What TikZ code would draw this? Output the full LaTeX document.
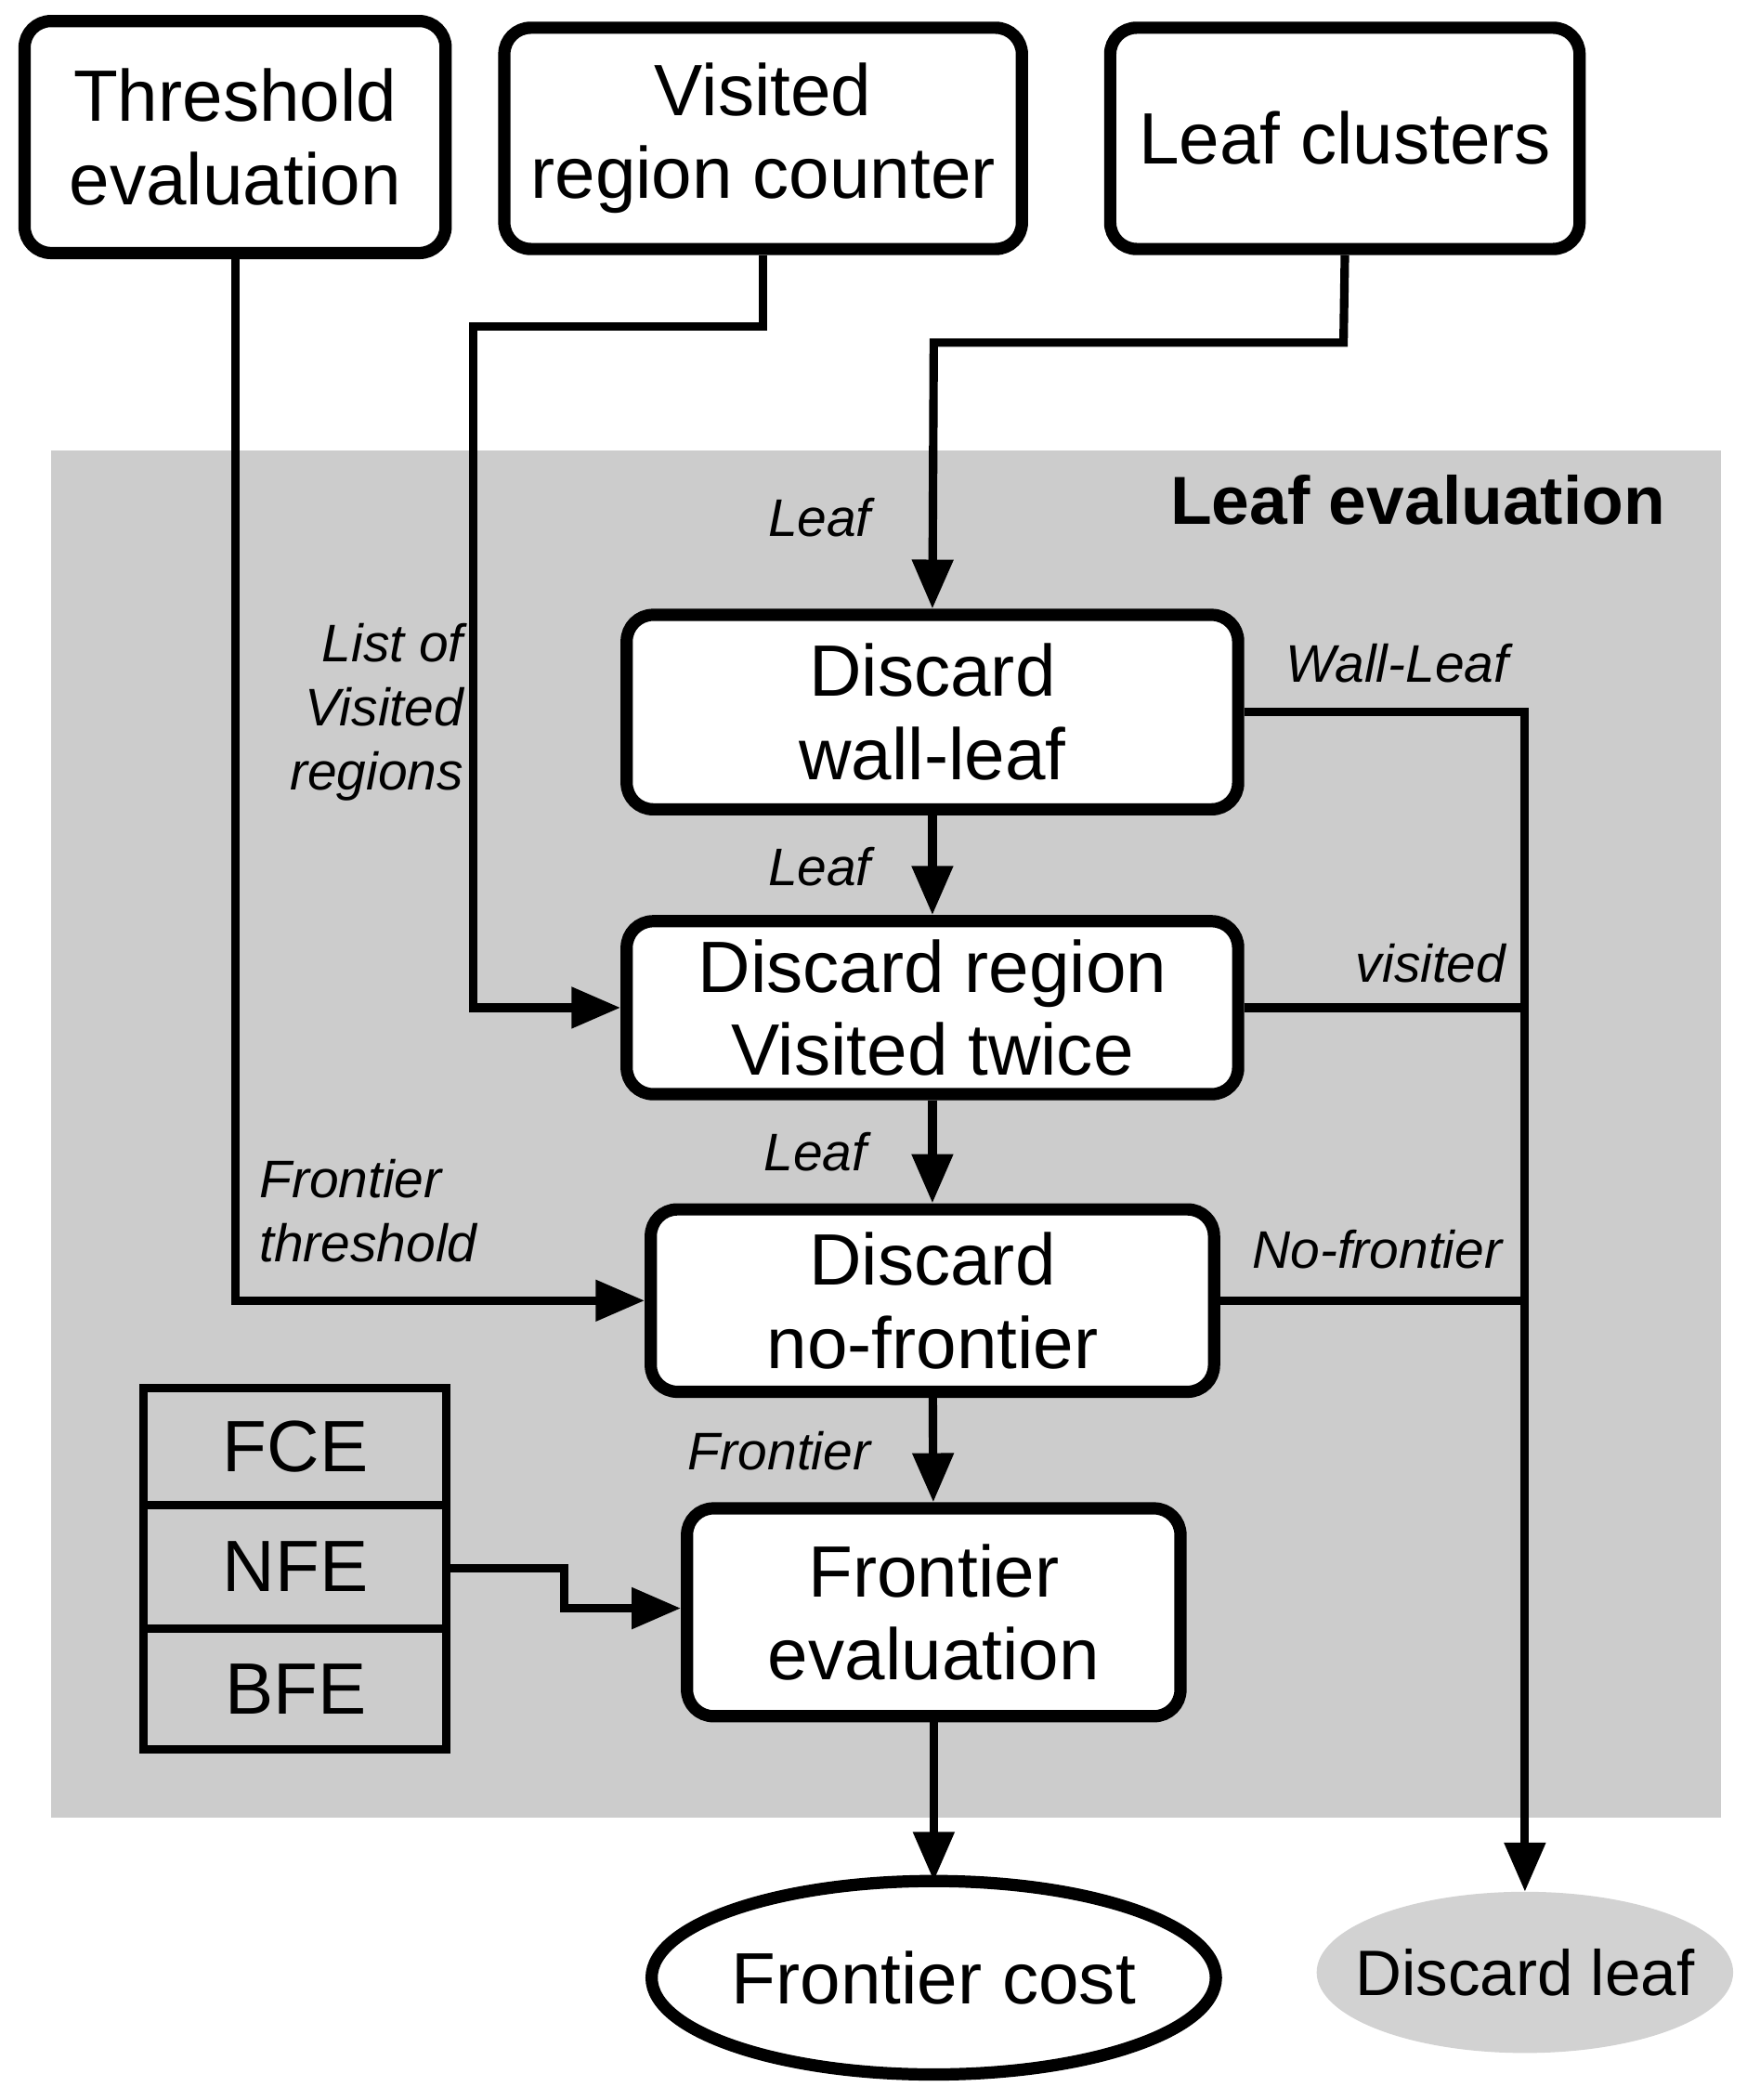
\documentclass[tikz,border=0pt]{standalone}
\usepackage{fontspec}
\setmainfont{Liberation Sans}
\usetikzlibrary{arrows.meta,shapes.geometric}
\begin{document}
\begin{tikzpicture}[x=0.05cm,y=-0.05cm,
 box/.style={draw,line width=13pt,rounded corners=28pt,fill=white,font=\fontsize{77}{88}\selectfont,align=center,inner sep=0pt},
 lab/.style={font=\fontsize{56}{68}\selectfont\itshape,align=left,inner sep=0pt},
 arr/.style={line width=9pt,-{Triangle[length=52pt,width=42pt]}},
 ln/.style={line width=9pt}]
\useasboundingbox (0,0) rectangle (1300,1563);
\fill[gray!40] (38,335) rectangle (1281,1353);
\node[font=\fontsize{72}{84}\selectfont\bfseries,anchor=east] (title) at (1242,372) {Leaf evaluation};
\node[box,minimum width=314*1.42pt,minimum height=173*1.42pt] (thr) at (175,102) {Threshold\\evaluation};
\node[box,minimum width=386*1.42pt,minimum height=165*1.42pt] (vis) at (568,103) {Visited\\region counter};
\node[box,minimum width=350*1.42pt,minimum height=165*1.42pt] (lc) at (1001,103) {Leaf clusters};
\node[box,minimum width=456*1.42pt,minimum height=145*1.42pt] (wl) at (694,530) {Discard\\wall-leaf};
\node[box,minimum width=456*1.42pt,minimum height=129*1.42pt] (rv) at (694,750) {Discard region\\Visited twice};
\node[box,minimum width=420*1.42pt,minimum height=136*1.42pt] (nf) at (694,968) {Discard\\no-frontier};
\node[box,minimum width=368*1.42pt,minimum height=155*1.42pt] (fe) at (695,1200) {Frontier\\evaluation};
\draw[line width=13pt,fill=white] (695,1472) ellipse [x radius=210, y radius=72];
\node[font=\fontsize{77}{88}\selectfont,inner sep=0pt] (fc) at (695,1472) {Frontier cost};
\coordinate (fcN) at (695,1400);
\fill[gray!35] (1135,1468) ellipse [x radius=155, y radius=60];
\node[font=\fontsize{68}{80}\selectfont,inner sep=0pt] (dl) at (1135,1468) {Discard leaf};
\coordinate (dlN) at (1135,1408);
\begin{scope}[line width=9pt,font=\fontsize{77}{88}\selectfont]
\draw (107,1033) rectangle (332,1302);
\draw (107,1120) -- (332,1120) (107,1212) -- (332,1212);
\node (fce) at (220,1077) {FCE};
\node (nfe) at (220,1166) {NFE};
\node (bfe) at (220,1257) {BFE};
\end{scope}
\coordinate (nfeE) at (332,1167);
\draw[arr] (nfeE) -- (420,1167) -- (420,1197) -- (fe.west|-0,1197);
\draw[arr] (thr.south) -- (175,968) -- (nf.west);
\draw[arr] (vis.south) -- (568,243) -- (352,243) -- (352,750) -- (rv.west);
\draw[arr] (lc.south) -- (1000,255) -- (695,255) -- (wl.north);
\draw[arr] (wl) -- (rv);
\draw[arr] (rv) -- (nf);
\draw[arr] (nf) -- (fe);
\draw[arr] (fe) -- (fcN);
\draw[arr] (wl.east|-0,530) -- (1135,530) -- (dlN);
\draw[ln] (rv.east|-0,750) -- (1135,750);
\draw[ln] (nf.east|-0,968) -- (1135,968);
\node[lab] (l1) at (610,385) {Leaf};
\node[lab,align=right,anchor=east] (l2) at (345,530) {List of\\Visited\\regions};
\node[lab] (l3) at (1040,494) {Wall-Leaf};
\node[lab] (l4) at (610,645) {Leaf};
\node[lab] (l5) at (1065,717) {visited};
\node[lab] (l6) at (607,857) {Leaf};
\node[lab,anchor=west] (l7) at (193,901) {Frontier\\threshold};
\node[lab] (l8) at (1025,930) {No-frontier};
\node[lab] (l9) at (580,1080) {Frontier};
\end{tikzpicture}
\end{document}
